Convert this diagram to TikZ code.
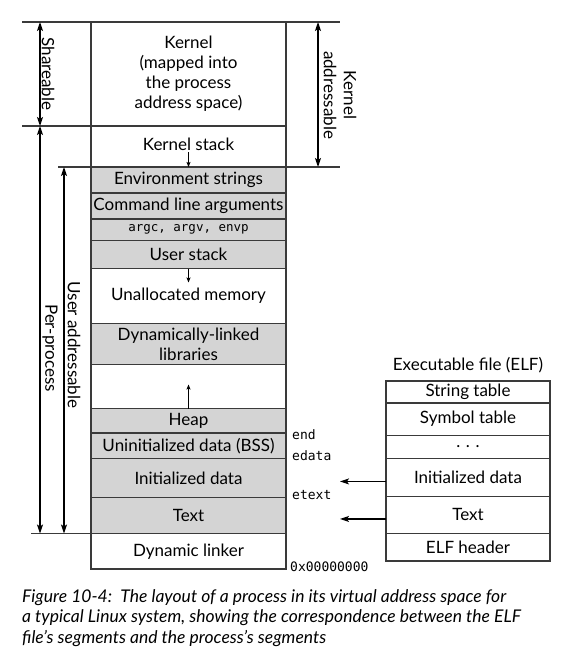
\documentclass[tikz,border=0pt]{standalone}
\usepackage{fontspec}
\setmainfont{Lato}
\setmonofont{DejaVu Sans Mono}
\usetikzlibrary{arrows.meta, positioning}
\definecolor{segline}{HTML}{3A3A3A}
\definecolor{segfill}{HTML}{D4D4D4}
\newcommand{\segfont}{\fontsize{17}{20}\selectfont}
\newcommand{\addrfont}{\fontsize{13}{16}\selectfont\ttfamily}
\tikzset{
  seg/.style={rectangle, draw=segline, line width=1.2pt, outer sep=0pt, inner sep=0pt, minimum width=195, align=center, font=\segfont},
  used/.style={seg, fill=segfill},
  elfrow/.style={seg, minimum width=164},
  addr/.style={font=\addrfont, anchor=west, inner sep=0pt},
  side/.style={font=\segfont, rotate=-90, align=center, inner sep=0pt},
  dim/.style={{Stealth[length=9pt,width=6pt,inset=2pt]}-{Stealth[length=9pt,width=6pt,inset=2pt]}, line width=1.2pt},
  growarrow/.style={-{Stealth[length=5pt,width=4pt,inset=1pt]}, line width=1pt},
  load/.style={-{Stealth[length=9pt,width=6pt,inset=2pt]}, line width=1.2pt},
  guide/.style={draw=segline, line width=1.2pt}
}

\begin{document}
\begin{tikzpicture}[x=1pt, y=-1pt]
  \useasboundingbox (0,0) rectangle (576,670);
  % process address space
  \node[seg, minimum height=104, anchor=north west] (kern) at (91,22) {Kernel\\(mapped into\\the process\\address space)};
  \node[seg, minimum height=41, below=0pt of kern] (kstack) {\raisebox{4pt}{Kernel stack}};
  \node[used, minimum height=26, below=0pt of kstack] (env) {Environment strings};
  \node[used, minimum height=26, below=0pt of env] (cmd) {Command line arguments};
  \node[used, minimum height=21.5, below=0pt of cmd] (argc) {\fontsize{12.5}{14}\selectfont\ttfamily argc, argv, envp};
  \node[used, minimum height=28, below=0pt of argc] (ustack) {User stack};
  \node[seg, minimum height=55, below=0pt of ustack] (unalloc) {Unallocated memory};
  \node[used, minimum height=41, below=0pt of unalloc] (dynlib) {Dynamically-linked\\libraries};
  \node[seg, minimum height=44, below=0pt of dynlib] (gap) {};
  \node[used, minimum height=24.5, below=0pt of gap] (heap) {Heap};
  \node[used, minimum height=25.5, below=0pt of heap] (bss) {Uninitialized data (BSS)};
  \node[used, minimum height=39, below=0pt of bss] (idata) {Initialized data};
  \node[used, minimum height=36, below=0pt of idata] (text) {Text};
  \node[seg, minimum height=35.5, below=0pt of text] (dynlink) {Dynamic linker};

  % growth arrows
  \draw[growarrow] ([yshift=15pt]kstack.south) -- (kstack.south);
  \draw[growarrow] (ustack.south) -- ([yshift=-14pt]ustack.south);
  \draw[growarrow] (heap.north) -- ([yshift=24pt]heap.north);

  % symbol addresses
  \node[addr] (lend) at (292,435) {end};
  \node[addr] (ledata) at (292,456) {edata};
  \node[addr] (letext) at (292,495) {etext};
  \node[addr] (lzero) at (290,567) {0x00000000};

  % extension lines and ranges
  \coordinate (xa) at (22,0);
  \coordinate (xb) at (58,0);
  \coordinate (xc) at (31,0);
  \coordinate (xr) at (340,0);
  \coordinate (xsh) at (40,0);
  \coordinate (xus) at (64,0);
  \coordinate (xka) at (318,0);
  \draw[guide] (xa |- kern.north) -- (xr |- kern.north);
  \draw[guide] (xa |- kern.south) -- (kern.south west);
  \draw[guide] (xb |- env.north) -- (env.north west);
  \draw[guide] (env.north east) -- (xr |- env.north);
  \draw[guide] (xc |- text.south) -- (text.south west);
  \draw[dim] (xsh |- kern.north) -- (xsh |- kern.south);
  \draw[dim] (xsh |- kern.south) -- (xsh |- text.south);
  \draw[dim] (xus |- env.north) -- (xus |- text.south);
  \draw[dim] (xka |- kern.north) -- (xka |- env.north);
  \node[side] (lshare) at (48,74) {Shareable};
  \node[side] (lper) at (50,348) {Per-process};
  \node[side] (luser) at (74,345) {User addressable};
  \node[side] (lkern) at (340,95) {Kernel\\addressable};

  % executable file
  \node[font=\segfont] (elf) at (468,365) {Executable file (ELF)};
  \node[elfrow, minimum height=22, anchor=north west] (estr) at (386,381) {String table};
  \node[elfrow, minimum height=32.3, below=0pt of estr] (esym) {Symbol table};
  \node[elfrow, minimum height=23.3, below=0pt of esym] (edots) {.\,\,.\,\,.};
  \node[elfrow, minimum height=37.7, below=0pt of edots] (eidata) {Initialized data};
  \node[elfrow, minimum height=37.3, below=0pt of eidata] (etext) {Text};
  \node[elfrow, minimum height=27.4, below=0pt of etext] (ehead) {ELF header};
  \draw[load] ([yshift=-4pt]eidata.west) -- ([yshift=-4pt]eidata.west -| xr);
  \draw[load] ([yshift=-4pt]etext.west) -- ([yshift=-4pt]etext.west -| xr);

  % caption
  \node[anchor=north west, align=left, inner sep=0pt, font=\fontsize{17.5}{20.5}\selectfont\itshape] (cap) at (22,589)
    {Figure 10-4:\ \ The layout of a process in its virtual address space for\\
     a typical Linux system, showing the correspondence between the ELF\\
     file's segments and the process's segments};
\end{tikzpicture}
\end{document}
